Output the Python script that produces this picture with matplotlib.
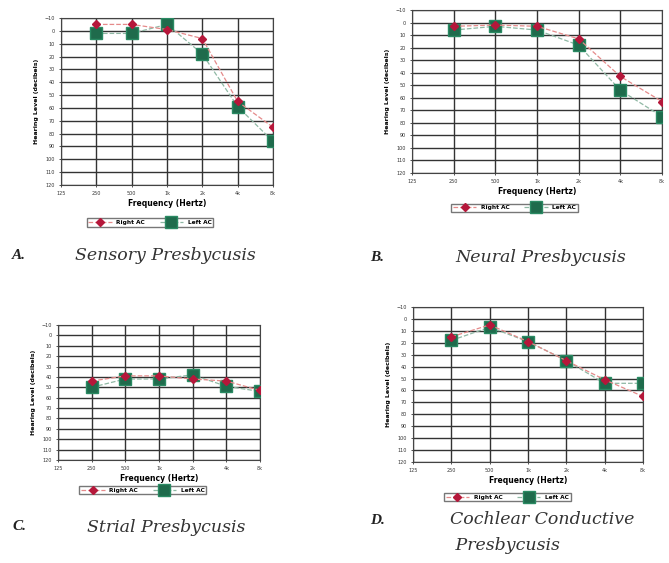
import numpy as np
import matplotlib.pyplot as plt

# frequencies on the audiogram x axis (125 Hz has no reading)
FREQ_LABELS = ['125', '250', '500', '1k', '2k', '4k', '8k']
DATA_FREQS = ['250', '500', '1k', '2k', '4k', '8k']
DB_TICKS = list(range(-10, 121, 10))

# hearing levels (dB)
sensory_right = [-5, -5, -1, 6, 55, 75]
sensory_left = [2, 2, -5, 18, 59, 86]
neural_right = [3, 2, 3, 13, 43, 63]
neural_left = [6, 3, 6, 18, 54, 75]
strial_right = [44, 39, 39, 42, 44, 53]
strial_left = [50, 42, 42, 38, 49, 54]
cochlear_right = [15, 5, 19, 35, 51, 65]
cochlear_left = [18, 7, 19, 35, 54, 54]

PANELS = [
    # letter, title lines, right, left, axes box in px (left, top, right, bottom),
    # legend anchor, letter position, title position
    ('A.', ['Sensory Presbycusis'], sensory_right, sensory_left,
     (61, 18, 273, 185), (0.42, -0.18), (12, 255), (75, 255)),
    ('B.', ['Neural Presbycusis'], neural_right, neural_left,
     (412, 10, 662, 173), (0.41, -0.17), (370, 258), (455, 258)),
    ('C.', ['Strial Presbycusis'], strial_right, strial_left,
     (58, 325, 260, 460), (0.42, -0.17), (12, 527), (87, 527)),
    ('D.', ['Cochlear Conductive', ' Presbycusis'], cochlear_right, cochlear_left,
     (413, 307, 643, 462), (0.41, -0.18), (370, 520), (450, 520)),
]

W, H = 669, 563
fig = plt.figure(figsize=(W / 100, H / 100), dpi=100)
fig.patch.set_facecolor('white')

x_all = np.arange(len(FREQ_LABELS))
x_data = [FREQ_LABELS.index(f) for f in DATA_FREQS]

for letter, title, right, left, box, leg_anchor, letter_xy, title_xy in PANELS:
    l, t, r, b = box
    ax = fig.add_axes([l / W, 1 - b / H, (r - l) / W, (b - t) / H])
    ax.plot(x_data, right, linestyle='--', color='#e58a8a', linewidth=0.9,
            marker='D', markersize=4, markerfacecolor='#b5173a',
            markeredgecolor='#b5173a', label='Right AC', zorder=4)
    ax.plot(x_data, left, linestyle='--', color='#8fb8a4', linewidth=0.9,
            marker='s', markersize=8, markerfacecolor='#1f6b4c',
            markeredgecolor='#2a8a63', label='Left AC', zorder=3)
    ax.set_xlim(0, 6)
    ax.set_ylim(120, -10)
    ax.set_xticks(x_all)
    ax.set_xticklabels(FREQ_LABELS)
    ax.set_yticks(DB_TICKS)
    ax.tick_params(labelsize=3.5, length=1.5, width=0.6, colors='#333333', pad=3)
    ax.grid(True, color='#333333', linewidth=1.0)
    for s in ax.spines.values():
        s.set_color('#444444')
        s.set_linewidth(0.8)
    ax.set_xlabel('Frequency (Hertz)', fontsize=5.5, fontweight='bold', labelpad=2)
    ax.set_ylabel('Hearing Level (decibels)', fontsize=4.5, fontweight='bold', labelpad=4)
    ax.set_axisbelow(True)
    ax.legend(loc='upper center', bbox_to_anchor=leg_anchor, ncol=2,
              frameon=True, fancybox=False, edgecolor='#555555', borderpad=0.3,
              handlelength=4, columnspacing=2.5, prop={'weight': 'bold', 'size': 4.2})

    fig.text(letter_xy[0] / W, 1 - letter_xy[1] / H, letter, fontsize=11,
             family='Liberation Serif', style='italic', fontweight='bold',
             va='center', color='#222222')
    for i, line in enumerate(title):
        fig.text(title_xy[0] / W, 1 - (title_xy[1] + i * 25) / H, line, fontsize=12.5,
                 family='DejaVu Serif', style='italic', va='center', color='#333333')

fig.savefig('out.png', dpi=100, facecolor='white')
